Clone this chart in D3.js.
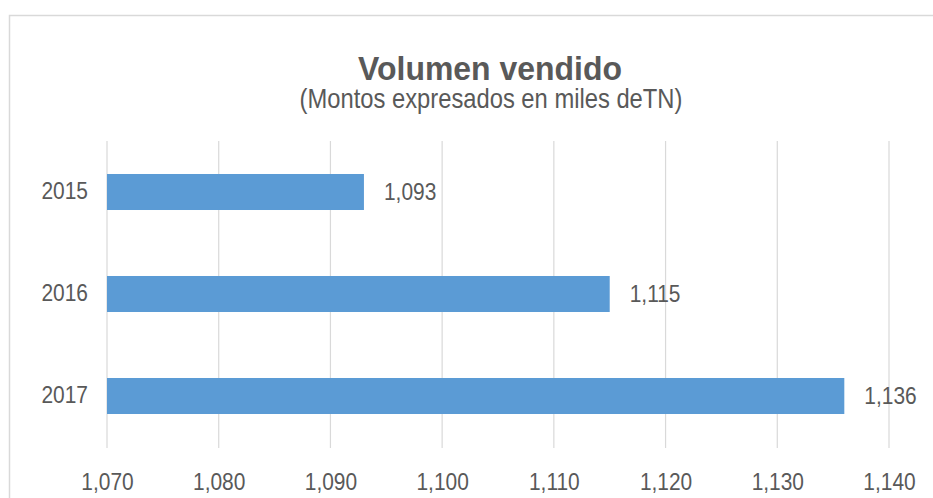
<!DOCTYPE html>
<html>
<head>
<meta charset="utf-8">
<script src="https://cdn.jsdelivr.net/npm/d3@7"></script>
<style>
  body { margin: 0; background: #fff; }
  text { font-family: "Liberation Sans", Arial, sans-serif; fill: #595959; }
</style>
</head>
<body>
<script>
let width = 933, height = 498;

let years = ["2015", "2016", "2017"];
let volumes = [1093, 1115, 1136];
let xTicks = [1070, 1080, 1090, 1100, 1110, 1120, 1130, 1140];
let title = "Volumen vendido";
let subtitle = "(Montos expresados en miles deTN)";

let numSize = 23, squeeze = 0.91; // source font looks a bit narrow and tall

let svg = d3.select("body").append("svg")
    .attr("width", width)
    .attr("height", height);

// chart frame (right and bottom edges fall outside the picture)
svg.append("rect")
    .attr("x", 9.5).attr("y", 15.5)
    .attr("width", 1000).attr("height", 1000)
    .style("fill", "none")
    .style("stroke", "#d9d9d9")
    .style("stroke-width", 1.5);

svg.append("text")
    .attr("transform", "translate(490,80) scale(0.94,1)")
    .attr("text-anchor", "middle")
    .style("font-size", "34px")
    .style("font-weight", "bold")
    .text(title);

svg.append("text")
    .attr("transform", "translate(491,108) scale(0.88,1)")
    .attr("text-anchor", "middle")
    .style("font-size", "27px")
    .text(subtitle);

let x = d3.scaleLinear()
    .domain([xTicks[0], xTicks[xTicks.length - 1]])
    .range([107, 889]);

let y = d3.scaleBand()
    .domain(years)
    .range([141, 447])
    .paddingInner(0.647)
    .paddingOuter(0.3235);

// vertical gridlines
svg.append("g")
    .selectAll("line")
    .data(xTicks)
    .enter().append("line")
    .attr("x1", d => x(d)).attr("x2", d => x(d))
    .attr("y1", 141).attr("y2", 448)
    .style("stroke", "#d9d9d9")
    .style("stroke-width", 1.2);

// x tick labels
let xAxis = svg.append("g")
    .attr("transform", "translate(0,448)")
    .call(d3.axisBottom(x).tickValues(xTicks).tickFormat(d3.format(",")).tickSize(0).tickPadding(26));
xAxis.select(".domain").remove();
xAxis.selectAll("text")
    .style("font-size", numSize + "px")
    .style("font-family", null)
    .attr("fill", "#595959")
    .attr("transform", "scale(" + squeeze + ",1)");

// category labels
let yAxis = svg.append("g")
    .attr("transform", "translate(88,0)")
    .call(d3.axisLeft(y).tickSize(0).tickPadding(0));
yAxis.select(".domain").remove();
yAxis.selectAll("text")
    .style("font-size", numSize + "px")
    .style("font-family", null)
    .attr("fill", "#595959")
    .attr("transform", "scale(" + squeeze + ",1)");

let rows = years.map((d, i) => ({ year: d, value: volumes[i] }));

svg.append("g")
    .selectAll("rect")
    .data(rows)
    .enter().append("rect")
    .attr("x", x(xTicks[0]))
    .attr("y", d => y(d.year))
    .attr("width", d => x(d.value) - x(xTicks[0]))
    .attr("height", y.bandwidth())
    .style("fill", "#5b9bd5");

svg.append("g")
    .selectAll("text")
    .data(rows)
    .enter().append("text")
    .attr("transform", d => "translate(" + (x(d.value) + 20) + "," + (y(d.year) + y.bandwidth() / 2) + ") scale(" + squeeze + ",1)")
    .attr("dy", "0.36em")
    .style("font-size", numSize + "px")
    .text(d => d3.format(",")(d.value));
</script>
</body>
</html>
